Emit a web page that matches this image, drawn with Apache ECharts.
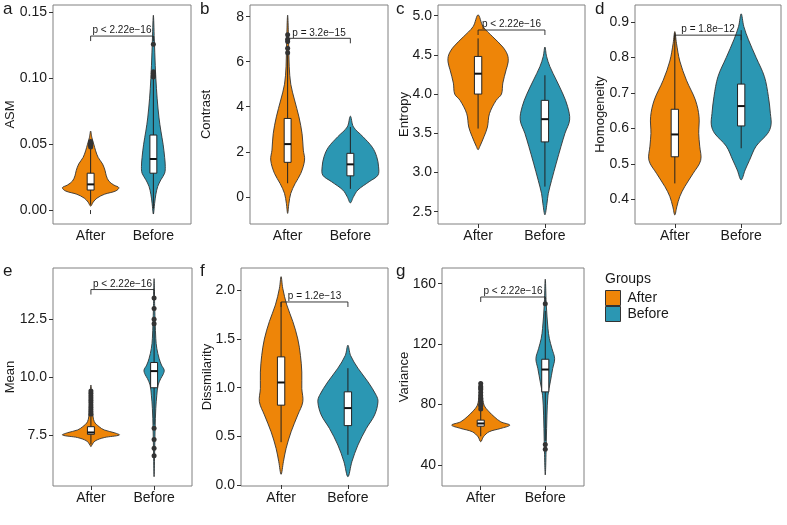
<!DOCTYPE html>
<html>
<head>
<meta charset="utf-8">
<script src="https://cdn.jsdelivr.net/npm/echarts@6/dist/echarts.min.js"></script>
<style>
  html, body { margin: 0; padding: 0; background: #fff; }
  #chart { width: 787px; height: 525px; }
</style>
</head>
<body>
<div id="chart"></div>
<script>
const groups = ['After', 'Before']
const groupColors = ['#ee8508', '#2b97b3']

const panelLetters = ['a', 'b', 'c', 'd', 'e', 'f', 'g']
const yNames = ['ASM', 'Contrast', 'Entropy', 'Homogeneity', 'Mean', 'Dissmilarity', 'Variance']
const yRanges = [[-0.0106, 0.1558], [-1.21, 8.52], [2.343, 5.136], [0.3305, 0.948], [5.3, 14.71], [-0.0103, 2.229], [26.1, 170.4]]
const yTicks = [
  [0, 0.05, 0.1, 0.15],
  [0, 2, 4, 6, 8],
  [2.5, 3, 3.5, 4, 4.5, 5],
  [0.4, 0.5, 0.6, 0.7, 0.8, 0.9],
  [7.5, 10, 12.5],
  [0, 0.5, 1, 1.5, 2],
  [40, 80, 120, 160],
]
const yTickDecimals = [2, 0, 1, 1, 1, 1, 0]

// violin outlines: [value, half width in category units], top to bottom
const asmViolin = [
  [[0.06, 0], [0.055, 0.02], [0.05, 0.05], [0.045, 0.08], [0.04, 0.12], [0.035, 0.19], [0.03, 0.23], [0.026, 0.25], [0.022, 0.29], [0.019, 0.37], [0.017, 0.45], [0.0145, 0.4], [0.012, 0.22], [0.009, 0.1], [0.006, 0.04], [0.003, 0]],
  [[0.148, 0], [0.13, 0.015], [0.11, 0.03], [0.1, 0.04], [0.085, 0.06], [0.07, 0.09], [0.06, 0.12], [0.05, 0.155], [0.04, 0.18], [0.033, 0.19], [0.028, 0.18], [0.023, 0.12], [0.018, 0.07], [0.012, 0.04], [0.005, 0.02], [-0.003, 0]],
]
const contrastViolin = [
  [[8.07, 0], [7.0, 0.015], [5.8, 0.025], [5.0, 0.05], [4.3, 0.11], [3.55, 0.18], [2.8, 0.23], [2.07, 0.25], [1.63, 0.27], [1.04, 0.21], [0.59, 0.12], [0.15, 0.05], [-0.3, 0.02], [-0.74, 0]],
  [[3.58, 0], [3.1, 0.05], [2.67, 0.2], [2.2, 0.35], [1.78, 0.42], [1.33, 0.45], [0.96, 0.44], [0.67, 0.3], [0.3, 0.12], [0, 0.05], [-0.27, 0]],
]
const entropyViolin = [
  [[5.01, 0], [4.86, 0.075], [4.73, 0.22], [4.6, 0.37], [4.5, 0.44], [4.41, 0.45], [4.31, 0.42], [4.14, 0.37], [4.0, 0.35], [3.92, 0.27], [3.75, 0.17], [3.58, 0.14], [3.46, 0.09], [3.33, 0.025], [3.29, 0]],
  [[4.6, 0], [4.48, 0.025], [4.35, 0.075], [4.18, 0.17], [4.0, 0.27], [3.84, 0.34], [3.67, 0.37], [3.5, 0.3], [3.33, 0.24], [3.12, 0.17], [2.9, 0.1], [2.73, 0.05], [2.6, 0.03], [2.46, 0]],
]
const homogeneityViolin = [
  [[0.873, 0], [0.84, 0.025], [0.79, 0.075], [0.736, 0.175], [0.68, 0.31], [0.633, 0.365], [0.586, 0.36], [0.55, 0.375], [0.51, 0.39], [0.473, 0.275], [0.436, 0.15], [0.408, 0.075], [0.379, 0.03], [0.356, 0]],
  [[0.923, 0], [0.887, 0.04], [0.85, 0.11], [0.8, 0.225], [0.746, 0.35], [0.69, 0.41], [0.642, 0.44], [0.61, 0.45], [0.586, 0.4], [0.55, 0.225], [0.51, 0.125], [0.483, 0.06], [0.455, 0]],
]
const meanViolin = [
  [[9.66, 0], [9.0, 0.015], [8.5, 0.027], [8.08, 0.053], [7.86, 0.13], [7.72, 0.21], [7.6, 0.37], [7.5, 0.45], [7.39, 0.21], [7.24, 0.064], [7.07, 0.016], [7.0, 0]],
  [[14.25, 0], [13.0, 0.01], [11.67, 0.027], [11.24, 0.043], [10.8, 0.08], [10.52, 0.117], [10.3, 0.16], [10.1, 0.14], [9.94, 0.106], [9.66, 0.064], [9.22, 0.043], [8.65, 0.027], [7.79, 0.016], [6.64, 0.008], [5.7, 0]],
]
const dissimilarityViolin = [
  [[2.14, 0], [2.02, 0.025], [1.85, 0.085], [1.68, 0.175], [1.5, 0.25], [1.33, 0.29], [1.16, 0.31], [0.99, 0.31], [0.855, 0.325], [0.72, 0.25], [0.547, 0.15], [0.376, 0.075], [0.24, 0.035], [0.11, 0]],
  [[1.436, 0], [1.33, 0.04], [1.2, 0.15], [1.06, 0.3], [0.92, 0.425], [0.855, 0.45], [0.72, 0.4], [0.58, 0.275], [0.41, 0.15], [0.24, 0.06], [0.085, 0]],
]
const varianceViolin = [
  [[95, 0], [86.2, 0.026], [79.6, 0.052], [75.2, 0.13], [71.9, 0.21], [68.6, 0.31], [66.4, 0.45], [64.2, 0.31], [62, 0.13], [58.7, 0.042], [55.4, 0]],
  [[163, 0], [145.7, 0.016], [130.3, 0.042], [123.7, 0.063], [117, 0.104], [110.4, 0.145], [103.8, 0.115], [95, 0.078], [86.2, 0.042], [73, 0.026], [55.4, 0.016], [33.4, 0]],
]
const violins = [asmViolin, contrastViolin, entropyViolin, homogeneityViolin, meanViolin, dissimilarityViolin, varianceViolin]

// box stats: [lower whisker, q1, median, q3, upper whisker] for After, Before
const boxStats = [
  [[0.004, 0.0152, 0.0195, 0.028, 0.047], [0.001, 0.028, 0.0388, 0.057, 0.1]],
  [[0.6, 1.53, 2.34, 3.48, 6.3], [0.35, 0.93, 1.44, 1.93, 3.1]],
  [[3.56, 4.0, 4.26, 4.48, 4.71], [2.82, 3.39, 3.68, 3.92, 4.24]],
  [[0.445, 0.52, 0.583, 0.654, 0.868], [0.544, 0.607, 0.663, 0.725, 0.877]],
  [[7.1, 7.53, 7.61, 7.86, 8.3], [7.95, 9.54, 10.26, 10.63, 12.2]],
  [[0.44, 0.82, 1.053, 1.316, 1.88], [0.31, 0.61, 0.79, 0.957, 1.2]],
  [[59, 65.7, 67.5, 69.7, 76], [56, 88.4, 103.2, 110, 142]],
]

const outliers = [
  [[0.048, 0.049, 0.05, 0.051, 0.052], [0.101, 0.102, 0.104, 0.105, 0.126]],
  [[6.4, 6.6, 6.9, 7.0, 7.2], []],
  [[], []],
  [[], []],
  [[8.4, 8.5, 8.6, 8.7, 8.8, 8.9, 9.0, 9.1, 9.2, 9.3, 9.4], [12.3, 12.5, 12.96, 13.42, 7.79, 7.31, 6.93, 6.61]],
  [[], []],
  [[77, 79, 80, 82, 84, 86, 88, 90, 91, 92, 94], [146.8, 53.6, 50.5]],
]

const pLabels = ['p < 2.22e−16', 'p = 3.2e−15', 'p < 2.22e−16', 'p = 1.8e−12', 'p < 2.22e−16', 'p = 1.2e−13', 'p < 2.22e−16']
const pHeights = [0.1322, 7.04, 4.817, 0.863, 13.78, 1.88, 151.2]

// layout
const grids = [
  { left: 53, top: 5, width: 138, height: 219 },
  { left: 250, top: 5, width: 138, height: 219 },
  { left: 438, top: 5, width: 147, height: 219 },
  { left: 635, top: 5, width: 146, height: 219 },
  { left: 53, top: 268, width: 139, height: 218 },
  { left: 241, top: 268, width: 147, height: 218 },
  { left: 442, top: 268, width: 142, height: 218 },
]
const nameGaps = [36, 37, 27.5, 28.5, 36, 27.5, 31.5]
const letterPos = [[3, 1], [200, 1], [396, 1], [595, 1], [3, 263], [200, 263], [396, 263]]
const BOX_HALF = 0.055
const INK = '#1a1a1a'
const FONT = 'Liberation Sans, Arial, sans-serif'

function violinSeries(i, g) {
  return {
    type: 'custom',
    name: groups[g],
    xAxisIndex: i,
    yAxisIndex: i,
    itemStyle: { color: groupColors[g] },
    data: [[g + 1, boxStats[i][g][2]]],
    renderItem: (params, api) => {
      const pos = api.value(0)
      const prof = violins[i][g]
      const left = prof.map(([v, w]) => api.coord([pos - w, v]))
      const right = prof.slice(1, -1).reverse().map(([v, w]) => api.coord([pos + w, v]))
      return {
        type: 'polygon',
        shape: { points: left.concat(right), smooth: 0.35 },
        style: { fill: groupColors[g], stroke: '#333', lineWidth: 0.9 },
      }
    },
  }
}

function boxSeries(i) {
  return {
    type: 'custom',
    name: 'box',
    xAxisIndex: i,
    yAxisIndex: i,
    encode: { x: 0, y: [1, 2, 3, 4, 5] },
    data: boxStats[i].map((s, g) => [g + 1, ...s]),
    renderItem: (params, api) => {
      const x = api.value(0)
      const lo = api.coord([x, api.value(1)])
      const q1 = api.coord([x, api.value(2)])
      const med = api.coord([x, api.value(3)])
      const q3 = api.coord([x, api.value(4)])
      const hi = api.coord([x, api.value(5)])
      const half = api.size([BOX_HALF, 0])[0]
      return {
        type: 'group',
        children: [
          { type: 'line', shape: { x1: lo[0], y1: lo[1], x2: hi[0], y2: hi[1] }, style: { stroke: '#222', lineWidth: 1 } },
          { type: 'rect', shape: { x: q3[0] - half, y: q3[1], width: half * 2, height: q1[1] - q3[1] }, style: { fill: '#fff', stroke: '#222', lineWidth: 1 } },
          { type: 'line', shape: { x1: med[0] - half, y1: med[1], x2: med[0] + half, y2: med[1] }, style: { stroke: '#111', lineWidth: 2 } },
        ],
      }
    },
  }
}

function outlierSeries(i) {
  const pts = []
  outliers[i].forEach((vals, g) => vals.forEach((v) => pts.push([g + 1, v])))
  return {
    type: 'scatter',
    name: 'outliers',
    xAxisIndex: i,
    yAxisIndex: i,
    symbolSize: 5,
    itemStyle: { color: '#333', opacity: 1 },
    data: pts,
  }
}

function bracketSeries(i) {
  return {
    type: 'custom',
    name: 'p',
    xAxisIndex: i,
    yAxisIndex: i,
    data: [[1, pHeights[i], 2]],
    renderItem: (params, api) => {
      const a = api.coord([api.value(0), api.value(1)])
      const b = api.coord([api.value(2), api.value(1)])
      const drop = 5
      return {
        type: 'group',
        children: [
          {
            type: 'polyline',
            shape: { points: [[a[0], a[1] + drop], a, b, [b[0], b[1] + drop]] },
            style: { stroke: '#222', lineWidth: 0.9, fill: null },
          },
          {
            type: 'text',
            style: {
              text: pLabels[i], x: (a[0] + b[0]) / 2, y: a[1] - 0.5,
              align: 'center', verticalAlign: 'bottom',
              fill: INK, font: '10px ' + FONT,
            },
          },
        ],
      }
    },
  }
}

const option = {
  animation: false,
  textStyle: { fontFamily: FONT },
  grid: grids.map((g) => ({ ...g, show: true, borderColor: '#808080', borderWidth: 1, backgroundColor: 'transparent' })),
  xAxis: grids.map((g, i) => ({
    type: 'value',
    gridIndex: i,
    min: 0.4,
    max: 2.6,
    axisLine: { show: false },
    splitLine: { show: false },
    axisTick: { show: true, customValues: [1, 2], length: 4, lineStyle: { color: '#333' } },
    axisLabel: { customValues: [1, 2], formatter: (v) => groups[Math.round(v) - 1], fontSize: 14, color: INK, margin: 5 },
  })),
  yAxis: grids.map((g, i) => ({
    type: 'value',
    gridIndex: i,
    min: yRanges[i][0],
    max: yRanges[i][1],
    name: yNames[i],
    nameLocation: 'middle',
    nameGap: nameGaps[i],
    nameMoveOverlap: false,
    nameTextStyle: { fontSize: 13, color: INK },
    axisLine: { show: false },
    splitLine: { show: false },
    axisTick: { show: true, customValues: yTicks[i], length: 4, lineStyle: { color: '#333' } },
    axisLabel: { customValues: yTicks[i], formatter: (v) => v.toFixed(yTickDecimals[i]), fontSize: 14, color: INK, margin: 6 },
  })),
  legend: {
    data: groups,
    orient: 'vertical',
    left: 605,
    top: 290,
    padding: 0,
    itemGap: 0,
    itemWidth: 15,
    itemHeight: 15,
    icon: 'rect',
    selectedMode: false,
    itemStyle: { borderColor: '#333', borderWidth: 1 },
    textStyle: { fontSize: 14, color: INK, padding: [0, 0, 0, 2] },
  },
  graphic: [
    ...panelLetters.map((t, i) => ({
      type: 'text', left: letterPos[i][0], top: letterPos[i][1],
      style: { text: t, fill: INK, font: '17px ' + FONT },
    })),
    { type: 'text', left: 605, top: 272, style: { text: 'Groups', fill: INK, font: '14px ' + FONT } },
  ],
  series: [],
}

grids.forEach((g, i) => {
  option.series.push(violinSeries(i, 0), violinSeries(i, 1), boxSeries(i), outlierSeries(i), bracketSeries(i))
})

const chart = echarts.init(document.getElementById('chart'))
chart.setOption(option)
window.addEventListener('resize', () => chart.resize())
</script>
</body>
</html>
